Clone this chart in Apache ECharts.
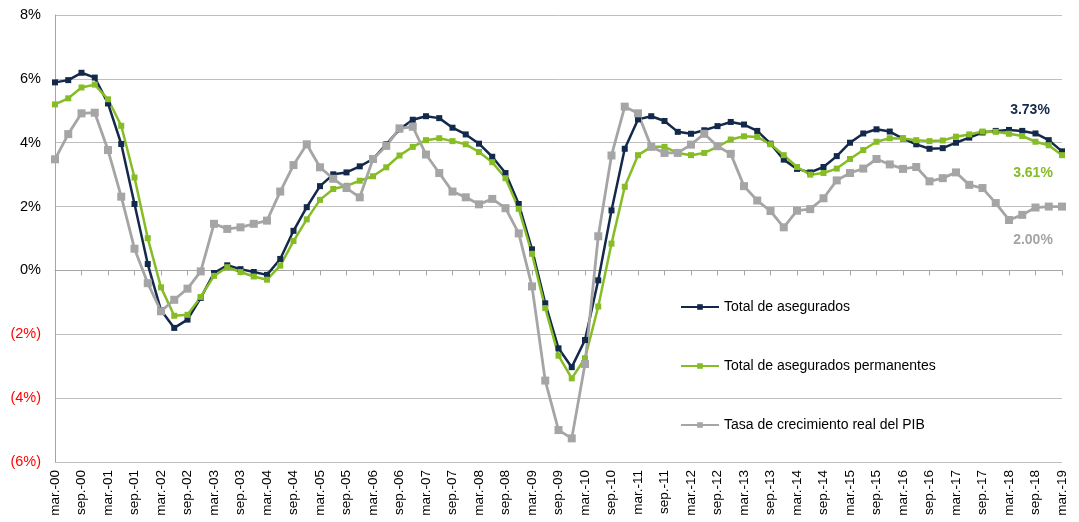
<!DOCTYPE html>
<html>
<head>
<meta charset="utf-8">
<script src="https://cdn.jsdelivr.net/npm/echarts@6/dist/echarts.min.js"></script>
<style>
  html, body { margin: 0; padding: 0; background: #ffffff; }
  #chart { width: 1079px; height: 522px; }
</style>
</head>
<body>
<div id="chart"></div>
<script>
// Quarterly periods, mar-00 .. mar-19
const categories = [
  'mar.-00','jun.-00','sep.-00','dic.-00','mar.-01','jun.-01','sep.-01','dic.-01',
  'mar.-02','jun.-02','sep.-02','dic.-02','mar.-03','jun.-03','sep.-03','dic.-03',
  'mar.-04','jun.-04','sep.-04','dic.-04','mar.-05','jun.-05','sep.-05','dic.-05',
  'mar.-06','jun.-06','sep.-06','dic.-06','mar.-07','jun.-07','sep.-07','dic.-07',
  'mar.-08','jun.-08','sep.-08','dic.-08','mar.-09','jun.-09','sep.-09','dic.-09',
  'mar.-10','jun.-10','sep.-10','dic.-10','mar.-11','jun.-11','sep.-11','dic.-11',
  'mar.-12','jun.-12','sep.-12','dic.-12','mar.-13','jun.-13','sep.-13','dic.-13',
  'mar.-14','jun.-14','sep.-14','dic.-14','mar.-15','jun.-15','sep.-15','dic.-15',
  'mar.-16','jun.-16','sep.-16','dic.-16','mar.-17','jun.-17','sep.-17','dic.-17',
  'mar.-18','jun.-18','sep.-18','dic.-18','mar.-19'
];

// Annual growth rates, %
const totalAsegurados = [
  5.89, 5.96, 6.19, 6.04, 5.23, 3.96, 2.08, 0.20,
  -1.25, -1.80, -1.54, -0.86, -0.08, 0.16, 0.04, -0.05,
  -0.14, 0.36, 1.24, 1.98, 2.64, 3.01, 3.07, 3.26,
  3.49, 3.95, 4.42, 4.72, 4.83, 4.77, 4.47, 4.26,
  3.97, 3.56, 3.05, 2.08, 0.66, -1.03, -2.44, -3.03,
  -2.18, -0.31, 1.88, 3.81, 4.73, 4.83, 4.68, 4.34,
  4.28, 4.39, 4.52, 4.65, 4.57, 4.37, 3.97, 3.47,
  3.18, 3.07, 3.24, 3.58, 4.00, 4.29, 4.42, 4.35,
  4.13, 3.95, 3.81, 3.83, 4.00, 4.16, 4.32, 4.37,
  4.40, 4.37, 4.29, 4.08, 3.73
];

const totalPermanentes = [
  5.20, 5.39, 5.73, 5.82, 5.36, 4.53, 2.91, 1.01,
  -0.53, -1.42, -1.39, -0.83, -0.17, 0.10, -0.05, -0.19,
  -0.29, 0.15, 0.92, 1.60, 2.21, 2.55, 2.65, 2.81,
  2.95, 3.23, 3.60, 3.87, 4.08, 4.14, 4.05, 3.95,
  3.71, 3.39, 2.89, 1.93, 0.52, -1.18, -2.67, -3.38,
  -2.75, -1.13, 0.84, 2.62, 3.61, 3.87, 3.87, 3.68,
  3.61, 3.68, 3.87, 4.10, 4.20, 4.18, 3.95, 3.61,
  3.24, 3.00, 3.05, 3.19, 3.49, 3.77, 4.03, 4.14,
  4.13, 4.08, 4.05, 4.07, 4.19, 4.26, 4.35, 4.34,
  4.28, 4.21, 4.03, 3.92, 3.61
];

const pibCrecimiento = [
  3.48, 4.27, 4.92, 4.94, 3.77, 2.31, 0.68, -0.40,
  -1.28, -0.92, -0.57, -0.03, 1.46, 1.30, 1.35, 1.46,
  1.56, 2.47, 3.30, 3.95, 3.23, 2.87, 2.58, 2.29,
  3.49, 3.90, 4.45, 4.50, 3.63, 3.05, 2.47, 2.29,
  2.07, 2.24, 1.95, 1.16, -0.50, -3.45, -5.00, -5.26,
  -2.93, 1.07, 3.60, 5.13, 4.92, 3.87, 3.68, 3.68,
  3.94, 4.28, 3.89, 3.65, 2.64, 2.19, 1.86, 1.35,
  1.87, 1.92, 2.26, 2.82, 3.05, 3.19, 3.49, 3.32,
  3.18, 3.24, 2.79, 2.89, 3.07, 2.68, 2.58, 2.11,
  1.58, 1.74, 1.97, 2.00, 2.00
];

const seriesNames = [
  'Total de asegurados',
  'Total de asegurados permanentes',
  'Tasa de crecimiento real del PIB'
];

const NAVY = '#13294b';
const GREEN = '#86bc25';
const GREY = '#a5a5a5';
const FONT = '"Liberation Sans", Arial, sans-serif';

// Attach a value label to the final point of a series only
function withEndLabel(values, color, offset) {
  return values.map((v, i) => {
    if (i !== values.length - 1) return v;
    return {
      value: v,
      label: {
        show: true,
        position: 'inside',
        offset: offset,
        formatter: (p) => p.value.toFixed(2) + '%',
        color: color,
        fontFamily: FONT,
        fontWeight: 'bold',
        fontSize: 14
      }
    };
  });
}

function lineSeries(name, values, color, symbolSize, width, labelOffset) {
  return {
    name: name,
    type: 'line',
    data: withEndLabel(values, color, labelOffset),
    symbol: 'rect',
    symbolSize: symbolSize,
    showAllSymbol: true,
    lineStyle: { color: color, width: width },
    itemStyle: { color: color },
    emphasis: { disabled: true },
    animation: false
  };
}

const chart = echarts.init(document.getElementById('chart'), null, { renderer: 'canvas' });

chart.setOption({
  backgroundColor: '#ffffff',
  animation: false,
  grid: { left: 55, right: 17, top: 15, bottom: 60, containLabel: false },
  legend: {
    orient: 'vertical',
    left: 680,
    top: 300,
    padding: 0,
    itemWidth: 38,
    itemHeight: 7,
    itemGap: 45,
    textStyle: { color: '#000000', fontFamily: FONT, fontSize: 14 },
    data: seriesNames
  },
  xAxis: {
    type: 'category',
    data: categories,
    boundaryGap: false,
    axisLine: { lineStyle: { color: '#a6a6a6', width: 1 } },
    axisTick: { show: true, interval: 1, length: 5, lineStyle: { color: '#a6a6a6' } },
    axisLabel: {
      interval: 1,
      rotate: 90,
      margin: 8,
      color: '#000000',
      fontFamily: FONT,
      fontSize: 13.5
    },
    splitLine: { show: false }
  },
  yAxis: {
    type: 'value',
    min: -6,
    max: 8,
    interval: 2,
    axisLine: { show: true, lineStyle: { color: '#a6a6a6', width: 1 } },
    axisTick: { show: false },
    splitLine: { lineStyle: { color: '#bfbfbf', width: 1 } },
    axisLabel: {
      margin: 14,
      fontFamily: FONT,
      fontSize: 14.5,
      formatter: (v) => v < 0 ? '{neg|(' + (-v) + '%)}' : '{pos|' + v + '%}',
      rich: {
        pos: { color: '#000000', fontFamily: FONT, fontSize: 14.5 },
        neg: { color: '#ff0000', fontFamily: FONT, fontSize: 14.5 }
      }
    }
  },
  series: [
    lineSeries(seriesNames[0], totalAsegurados, NAVY, 6, 2.5, [-32, -41]),
    lineSeries(seriesNames[1], totalPermanentes, GREEN, 6, 2.5, [-29, 18]),
    lineSeries(seriesNames[2], pibCrecimiento, GREY, 8, 2.8, [-29, 34])
  ]
});
</script>
</body>
</html>
